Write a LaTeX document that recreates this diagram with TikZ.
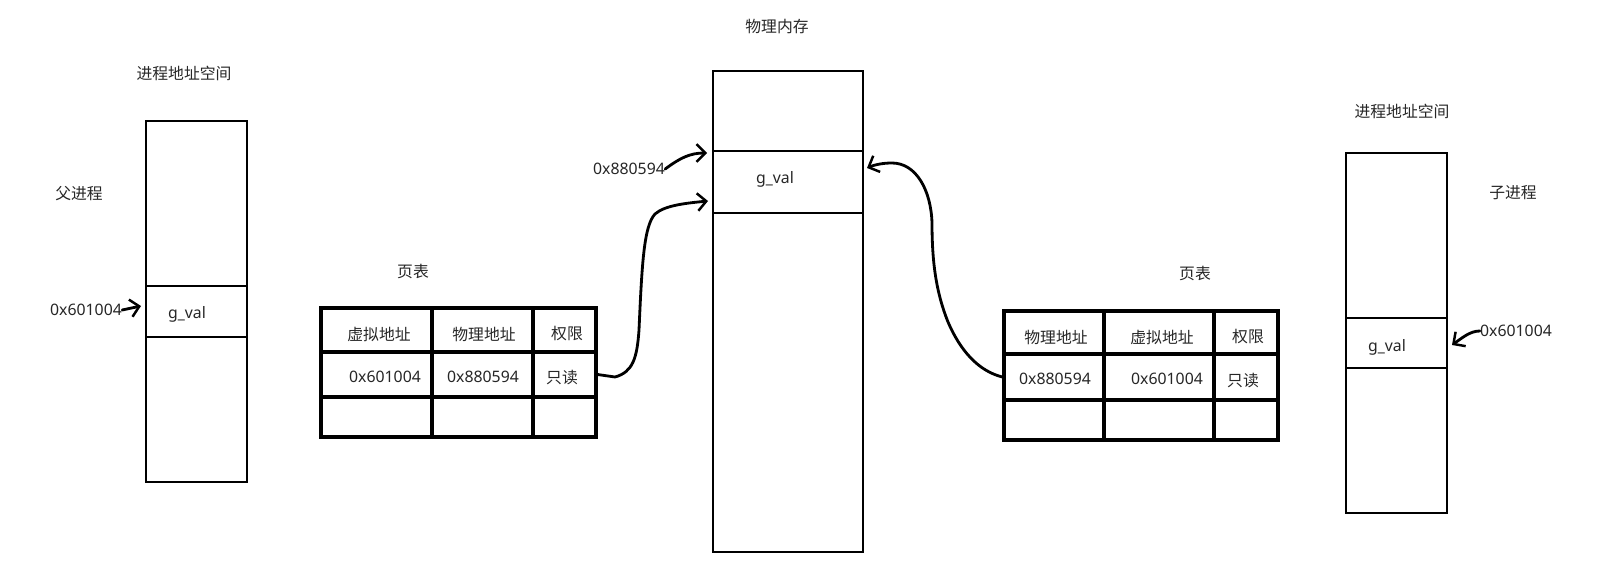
\documentclass[tikz,border=0pt]{standalone}
\usepackage{fontspec}
\setmainfont{Noto Sans}
\newfontfamily\cjk{Noto Sans CJK SC}
\usetikzlibrary{fit,arrows.meta}
\begin{document}
\begin{tikzpicture}[x=0.02cm,y=-0.02cm,
  txt/.style={font=\fontsize{9pt}{11pt}\selectfont, text=black!85, inner sep=0pt},
  zh/.style={txt, font=\fontsize{9pt}{11pt}\selectfont\cjk},
  blk/.style={draw, line width=1.6pt, inner sep=0pt},
  cell/.style={draw, line width=1.8pt, inner sep=0pt},
  link/.style={line width=1.6pt, line cap=round, line join=round,
    -{Straight Barb[length=5pt,width=10pt,line width=1.4pt]}}
]
\useasboundingbox (0,0) rectangle (1608,564);

% ---------- parent process address space ----------
\node[zh] (ttlL) at (184,73) {进程地址空间};
\node[zh] (par) at (79,194) {父进程};
\node[blk, fit={(146,121)(247,482)}] (L) {};
\node[blk, fit={(146,286)(247,337)}] (Lg) {};
\node[txt] at (187,314) {g\_val};
\node[txt] (lbl1) at (86,310) {0x601004};
\coordinate (t1) at (141,306);
\draw[link] (lbl1.east) -- (t1);

% ---------- parent page table ----------
\node[zh] (ttlPA) at (413,272) {页表};
\foreach \c/\xa/\xb in {1/321/432,2/432/533,3/533/596}
  \foreach \r/\ya/\yb in {1/308/352,2/352/397,3/397/437}
    \node[cell, fit={(\xa,\ya)(\xb,\yb)}] (pa\r\c) {};
\node[zh] at (379,334) {虚拟地址};
\node[zh] at (484,334) {物理地址};
\node[zh] at (567,334) {权限};
\node[txt] at (385,377) {0x601004};
\node[txt] at (483,377) {0x880594};
\node[zh] at (562,378) {只读};

% ---------- physical memory ----------
\node[zh] (ttlM) at (777,27) {物理内存};
\node[blk, fit={(713,71)(863,552)}] (M) {};
\node[blk, fit={(713,151)(863,213)}] (Mg) {};
\node[txt] at (775,179) {g\_val};
\node[txt] (lbl2) at (629,169) {0x880594};
\coordinate (t2) at (707,153);
\draw[link] (lbl2.east) .. controls (680,158) and (690,153) .. (t2);
\coordinate (t3) at (708,201);
\draw[link] (pa23.east) -- (615,377)
  .. controls (633,372) and (637,358) .. (639,330)
  .. controls (642,262) and (644,226) .. (655,214)
  .. controls (665,205) and (688,203) .. (t3);

% ---------- child page table ----------
\node[zh] (ttlPB) at (1195,274) {页表};
\foreach \c/\xa/\xb in {1/1004/1104,2/1104/1214,3/1214/1278}
  \foreach \r/\ya/\yb in {1/311/354,2/354/400,3/400/440}
    \node[cell, fit={(\xa,\ya)(\xb,\yb)}] (pb\r\c) {};
\node[zh] at (1056,337) {物理地址};
\node[zh] at (1162,337) {虚拟地址};
\node[zh] at (1248,337) {权限};
\node[txt] at (1055,379) {0x880594};
\node[txt] at (1167,379) {0x601004};
\node[zh] at (1243,381) {只读};
\coordinate (t4) at (867,168);
\draw[link] (pb21.west) .. controls (978,371) and (960,350) .. (948,322)
  .. controls (936,292) and (932,262) .. (932,223)
  .. controls (931,190) and (916,163) .. (892,163)
  .. controls (882,163) and (874,165) .. (t4);

% ---------- child process address space ----------
\node[zh] (ttlR) at (1402,111) {进程地址空间};
\node[zh] (chd) at (1513,193) {子进程};
\node[blk, fit={(1346,153)(1447,513)}] (R) {};
\node[blk, fit={(1346,318)(1447,368)}] (Rg) {};
\node[txt] at (1387,347) {g\_val};
\node[txt] (lbl3) at (1516,331) {0x601004};
\coordinate (t5) at (1452,345);
\draw[link] (lbl3.west) .. controls (1470,331) and (1462,338) .. (t5);
\end{tikzpicture}
\end{document}
